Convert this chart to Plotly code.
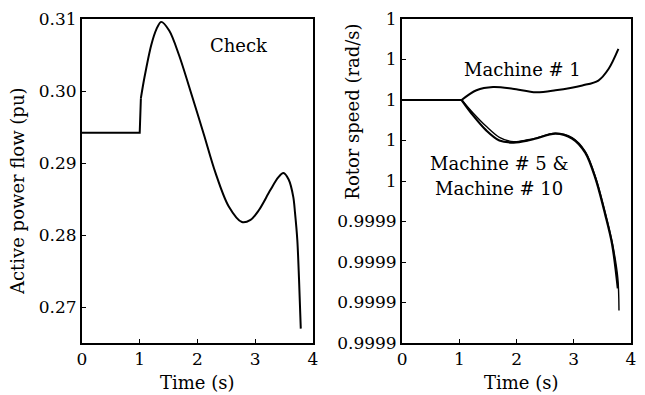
import plotly.graph_objects as go

# Active power flow on the checked line (left panel)
t_flow = [0, 1.0, 1.02, 1.08, 1.2, 1.29, 1.37, 1.51, 1.68, 1.91, 2.11, 2.31,
          2.54, 2.77, 2.92, 3.06, 3.26, 3.40, 3.49, 3.58, 3.66, 3.69, 3.73, 3.76, 3.79]
p_flow = [0.2942, 0.2942, 0.2990, 0.3018, 0.3064, 0.3086, 0.3096, 0.3084,
          0.3050, 0.2992, 0.2940, 0.2887, 0.2840, 0.2818, 0.2821, 0.2834, 0.2862,
          0.2880, 0.2886, 0.2877, 0.2853, 0.2831, 0.2793, 0.2738, 0.2670]

# Rotor speeds (right panel)
t_m1 = [0, 1.04, 1.30, 1.59, 1.93, 2.34, 2.68, 3.15, 3.43, 3.61, 3.78]
w_m1 = [1.0, 1.0, 1.0000024, 1.0000032, 1.0000028, 1.0000019, 1.0000024,
        1.0000036, 1.0000048, 1.0000077, 1.0000126]

t_m5 = [0, 1.04, 1.24, 1.47, 1.70, 1.95, 2.20, 2.34, 2.68, 2.97, 3.20,
        3.38, 3.55, 3.67, 3.77]
w_m5 = [1.0, 1.0, 0.9999962, 0.9999925, 0.9999900, 0.9999895, 0.9999900,
        0.9999905, 0.9999917, 0.9999905, 0.9999870, 0.9999806, 0.9999717,
        0.9999644, 0.9999535]

t_m10 = [0, 1.04, 1.24, 1.47, 1.70, 1.95, 2.20, 2.34, 2.68, 2.97, 3.20,
         3.38, 3.55, 3.67, 3.77, 3.79]
w_m10 = [1.0, 1.0, 0.9999968, 0.9999935, 0.9999908, 0.9999897, 0.9999902,
         0.9999906, 0.9999918, 0.9999907, 0.9999873, 0.9999810, 0.9999722,
         0.9999650, 0.9999560, 0.9999480]

x_ticks = [0, 1, 2, 3, 4]
flow_ticks = [0.27, 0.28, 0.29, 0.30, 0.31]
flow_ticktext = ["0.27", "0.28", "0.29", "0.30", "0.31"]
speed_ticks = [0.99994, 0.99995, 0.99996, 0.99997, 0.99998, 0.99999,
               1.00000, 1.00001, 1.00002]
speed_ticktext = ["0.9999", "0.9999", "0.9999", "0.9999", "1", "1", "1", "1", "1"]

SERIF = "DejaVu Serif"
ink = "black"

fig = go.Figure()


def add_curve(t, v, n_flat, width, xa, ya):
    # straight pre-disturbance part, then a smooth spline for the transient
    fig.add_trace(go.Scatter(x=t[:n_flat], y=v[:n_flat], mode="lines",
                             line=dict(color=ink, width=width), xaxis=xa, yaxis=ya,
                             showlegend=False, hoverinfo="skip"))
    fig.add_trace(go.Scatter(x=t[n_flat - 1:], y=v[n_flat - 1:], mode="lines",
                             line=dict(color=ink, width=width, shape="spline",
                                       smoothing=0.9),
                             xaxis=xa, yaxis=ya, showlegend=False))


add_curve(t_flow, p_flow, 3, 2, "x", "y")
add_curve(t_m1, w_m1, 2, 2, "x2", "y2")
add_curve(t_m5, w_m5, 2, 2.2, "x2", "y2")
add_curve(t_m10, w_m10, 2, 1.4, "x2", "y2")

axis_common = dict(showgrid=False, zeroline=False, showline=True, linecolor=ink,
                   linewidth=2, mirror=True, ticks="inside", ticklen=4,
                   tickcolor=ink, tickfont=dict(family=SERIF, size=17, color=ink))

L, R, T, B = 82, 9, 16, 52
W, H = 645, 395
pw = W - L - R
ph = H - T - B

fig.update_layout(
    width=W, height=H,
    margin=dict(l=L, r=R, t=T, b=B),
    paper_bgcolor="white", plot_bgcolor="white",
    xaxis=dict(domain=[0, (315 - L) / pw], range=[0, 4], tickvals=x_ticks,
               anchor="y", **axis_common),
    yaxis=dict(domain=[0, 1], range=[0.265, 0.31], tickvals=flow_ticks,
               ticktext=flow_ticktext, anchor="x", **axis_common),
    xaxis2=dict(domain=[(405 - L) / pw, 1], range=[0, 4], tickvals=x_ticks,
                anchor="y2", **axis_common),
    yaxis2=dict(domain=[0, 1], range=[0.99994, 1.00002], tickvals=speed_ticks,
                ticktext=speed_ticktext, anchor="x2", **axis_common),
)


def px_x(x):
    return (x - L) / pw


def px_y(y):
    return 1 - (y - T) / ph


label_font = dict(family=SERIF, size=18, color=ink)
notes = [
    dict(text="Time (s)", x=px_x(199), y=px_y(383), textangle=0),
    dict(text="Time (s)", x=px_x(526), y=px_y(383), textangle=0),
    dict(text="Active power flow (pu)", x=px_x(17), y=px_y(190), textangle=-90),
    dict(text="Rotor speed (rad/s)", x=px_x(355), y=px_y(110), textangle=-90),
    dict(text="Check", x=px_x(240), y=px_y(43), textangle=0),
    dict(text="Machine # 1", x=px_x(527), y=px_y(67), textangle=0),
    dict(text="Machine # 5 &", x=px_x(503), y=px_y(162), textangle=0),
    dict(text="Machine # 10", x=px_x(503), y=px_y(187), textangle=0),
]
for n in notes:
    fig.add_annotation(text=n["text"], x=n["x"], y=n["y"], xref="paper", yref="paper",
                       xanchor="center", yanchor="middle", showarrow=False,
                       textangle=n["textangle"], font=label_font)

fig.write_html("out.html")
